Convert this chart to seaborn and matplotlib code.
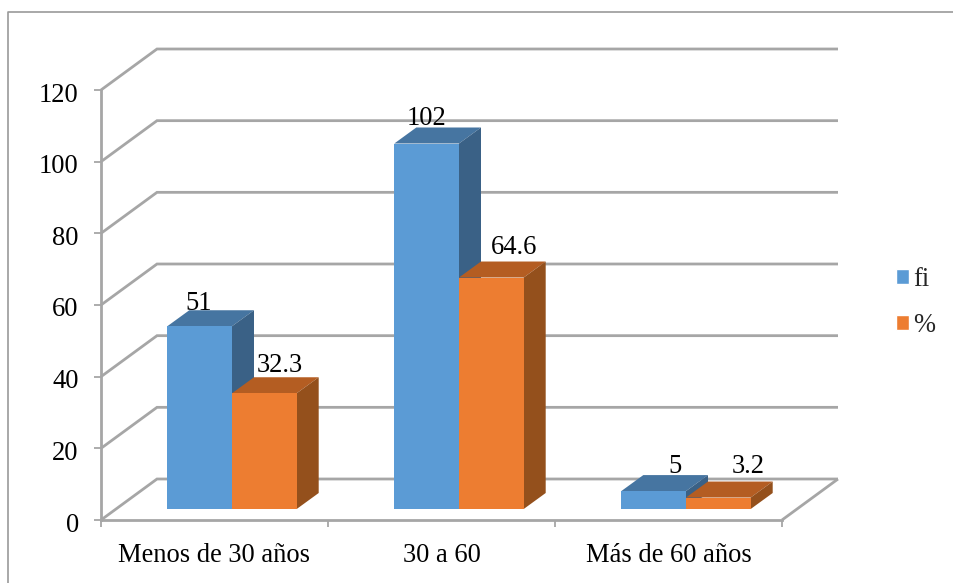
import matplotlib
matplotlib.use("Agg")
import matplotlib.pyplot as plt
import pandas as pd
import seaborn as sns
from matplotlib.lines import Line2D
from matplotlib.patches import Polygon
from matplotlib.transforms import Affine2D, IdentityTransform

categories = ["Menos de 30 años", "30 a 60", "Más de 60 años"]
fi_values = [51, 102, 5]
pct_values = [32.3, 64.6, 3.2]
y_ticks = [0, 20, 40, 60, 80, 100, 120]

W, H = 954, 583
GREY = "#A6A6A6"
FACES = {
    "fi": ("#5B9BD5", "#4675A1", "#3A6186"),
    "%": ("#ED7D31", "#B45D22", "#94501C"),
}
# Oblique projection of the box, in pixels
WALL_DX, WALL_DY = 56, 41
BAR_SHIFT = (17.5, 11)
BAR_DX, BAR_DY = 22, 16

sns.set_theme(style="white")
plt.rcParams["font.family"] = ["Liberation Serif", "DejaVu Serif"]
FS = 19.1

fig = plt.figure(figsize=(W / 100, H / 100), dpi=100)
ax = fig.add_axes([101 / W, 1 - 520 / H, (782 - 101) / W, 430 / H])

df = pd.DataFrame({
    "categoria": categories * 2,
    "valor": fi_values + pct_values,
    "serie": ["fi"] * 3 + ["%"] * 3,
})
sns.barplot(
    data=df, x="categoria", y="valor", hue="serie",
    palette={k: v[0] for k, v in FACES.items()},
    width=0.57, gap=0, saturation=1, errorbar=None, legend=False,
    linewidth=0, ax=ax,
)
ax.set_xlim(-0.5, 2.5)
ax.set_ylim(0, 120)
ax.set_xlabel("")
ax.set_ylabel("")
sns.despine(ax=ax, top=True, right=True)
ax.spines["left"].set(color=GREY, linewidth=2.0)
ax.spines["bottom"].set(color=GREY, linewidth=2.0)
ax.set_yticks(y_ticks)
ax.set_xticks([-0.5, 0.5, 1.5, 2.5], minor=True)
ax.set_xticks(range(3))
ax.set_xticklabels(categories)
ax.tick_params(axis="x", which="major", bottom=False, pad=10.5, labelsize=FS, labelcolor="black")
ax.tick_params(axis="x", which="minor", bottom=True, length=5, width=1.3, color=GREY)
ax.tick_params(axis="y", left=True, length=5, width=1.3, color=GREY, pad=11, labelsize=FS, labelcolor="black")
for label in ax.get_yticklabels():
    label.set_transform(label.get_transform() + Affine2D().translate(0, -2))
ax.patch.set_alpha(0)

to_px = ax.transData
px = IdentityTransform()


def add_px_line(xs, ys):
    ax.add_line(Line2D(xs, ys, transform=px, color=GREY, linewidth=2.0, clip_on=False,
                       solid_capstyle="butt", solid_joinstyle="miter", zorder=1))


# Side wall and back wall grid, one polyline per y tick
xl, xr = ax.get_xlim()
for tick in y_ticks:
    x0, y0 = to_px.transform((xl, tick))
    x1, _ = to_px.transform((xr, tick))
    add_px_line([x0, x0 + WALL_DX, x1 + WALL_DX], [y0, y0 + WALL_DY, y0 + WALL_DY])
x0, y0 = to_px.transform((xr, 0))
add_px_line([x0, x0 + WALL_DX], [y0, y0 + WALL_DY])

# Move each bar onto the floor and extrude its top and side faces
bars = [p for p in ax.patches if p.get_height() > 0]
series_of_bar = ["fi"] * 3 + ["%"] * 3
shift = Affine2D().translate(*BAR_SHIFT)
for bar, name in zip(bars, series_of_bar):
    order = 4 if name == "fi" else 4.5
    bar.set_transform(ax.transData + shift)
    bar.set_clip_on(False)
    bar.set_zorder(order + 0.1)
    (xa, ya), (xb, yb) = to_px.transform(
        [(bar.get_x(), 0), (bar.get_x() + bar.get_width(), bar.get_height())]
    )
    xa, xb = xa + BAR_SHIFT[0], xb + BAR_SHIFT[0]
    ya, yb = ya + BAR_SHIFT[1], yb + BAR_SHIFT[1]
    ax.add_patch(Polygon(
        [(xa, yb), (xb, yb), (xb + BAR_DX, yb + BAR_DY), (xa + BAR_DX, yb + BAR_DY)],
        closed=True, transform=px, facecolor=FACES[name][1], edgecolor="none",
        clip_on=False, zorder=order))
    ax.add_patch(Polygon(
        [(xb, ya), (xb, yb), (xb + BAR_DX, yb + BAR_DY), (xb + BAR_DX, ya + BAR_DY)],
        closed=True, transform=px, facecolor=FACES[name][2], edgecolor="none",
        clip_on=False, zorder=order))

# Value labels, nudged off each bar's top in pixels
values = fi_values + pct_values
nudges = [(-1, 23), (0, 25), (21.5, 25), (15, 28), (23, 30), (30, 31)]
for bar, value, (dx, dy) in zip(bars, values, nudges):
    ax.annotate(f"{value:g}", xy=(bar.get_x() + bar.get_width() / 2, value),
                xytext=(BAR_SHIFT[0] + dx, BAR_SHIFT[1] + dy), textcoords="offset pixels",
                ha="center", va="center", fontsize=FS, color="black",
                annotation_clip=False, zorder=10)

# Legend with small square keys
handles = [plt.Rectangle((0, 0), 1, 1, facecolor=FACES[k][0]) for k in FACES]
fig.legend(handles, list(FACES), loc="center left", bbox_to_anchor=(896 / W, 1 - 302.5 / H),
           frameon=False, fontsize=FS, handlelength=0.5, handleheight=0.5,
           handletextpad=0.16, labelspacing=0.8, borderpad=0, borderaxespad=0)

# Outer frame of the chart area
fig.add_artist(Line2D([8 / W, 8 / W, 1], [0, 1 - 12 / H, 1 - 12 / H],
                      transform=fig.transFigure, color="#9A9A9A", linewidth=1.2))

fig.savefig("out.png", dpi=100)
